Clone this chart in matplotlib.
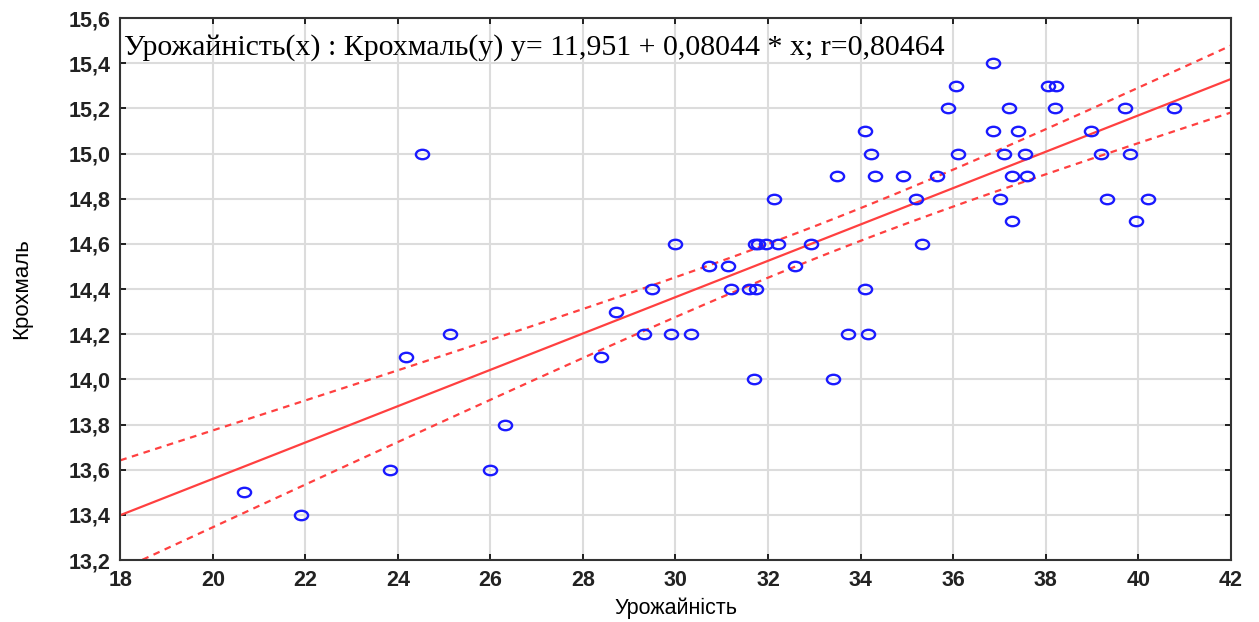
import numpy as np
import matplotlib.pyplot as plt
from matplotlib.path import Path
from matplotlib.transforms import Affine2D
from matplotlib.ticker import FuncFormatter, MultipleLocator

# Урожайність (x) vs Крохмаль (y)
urozhai = [20.67, 21.90, 23.83, 24.17, 24.52, 25.13, 26.00, 26.31,
           28.40, 28.72, 29.33, 29.50, 29.91, 29.98, 30.34, 30.73,
           31.13, 31.21, 31.58, 31.70, 31.75, 31.72, 31.79, 31.95,
           32.13, 32.21, 32.59, 32.92, 33.40, 33.50, 33.74, 34.09,
           34.09, 34.17, 34.22, 34.32, 34.92, 35.19, 35.32, 35.66,
           35.89, 36.06, 36.10, 36.87, 36.87, 37.02, 37.10, 37.20,
           37.27, 37.27, 37.41, 37.55, 37.60, 38.05, 38.23, 38.21,
           38.98, 39.20, 39.33, 39.72, 39.82, 39.95, 40.21, 40.77]
krokhmal = [13.5, 13.4, 13.6, 14.1, 15.0, 14.2, 13.6, 13.8,
            14.1, 14.3, 14.2, 14.4, 14.2, 14.6, 14.2, 14.5,
            14.5, 14.4, 14.4, 14.0, 14.4, 14.6, 14.6, 14.6,
            14.8, 14.6, 14.5, 14.6, 14.0, 14.9, 14.2, 15.1,
            14.4, 14.2, 15.0, 14.9, 14.9, 14.8, 14.6, 14.9,
            15.2, 15.3, 15.0, 15.4, 15.1, 14.8, 15.0, 15.2,
            14.7, 14.9, 15.1, 15.0, 14.9, 15.3, 15.3, 15.2,
            15.1, 15.0, 14.8, 15.2, 15.0, 14.7, 14.8, 15.2]

intercept = 11.951
slope = 0.08044
r_value = 0.80464
t_crit = 1.999

x = np.array(urozhai)
y = np.array(krokhmal)
n = len(x)
resid = y - (intercept + slope * x)
s = np.sqrt(np.sum(resid ** 2) / (n - 2))
sxx = np.sum((x - x.mean()) ** 2)

xs = np.linspace(18, 42, 200)
fit = intercept + slope * xs
half = t_crit * s * np.sqrt(1.0 / n + (xs - x.mean()) ** 2 / sxx)

fig = plt.figure(figsize=(12.59, 6.22), dpi=100)
ax = fig.add_axes([0.0955, 0.0995, 0.882, 0.8715])

ellipse = Path.unit_circle().transformed(Affine2D().scale(1.4, 1.0))
ax.plot(x, y, linestyle='none', marker=ellipse, markersize=9.5,
        mfc='none', mec='#1a1aff', mew=1.7, zorder=3)
ax.plot(xs, fit, color='#ff4040', lw=1.6, zorder=2)
ax.plot(xs, fit + half, color='#ff4040', lw=1.6, ls=(0, (3, 2.5)), zorder=2)
ax.plot(xs, fit - half, color='#ff4040', lw=1.6, ls=(0, (3, 2.5)), zorder=2)

ax.set_xlim(18, 42)
ax.set_ylim(13.2, 15.6)
ax.xaxis.set_major_locator(MultipleLocator(2))
ax.yaxis.set_major_locator(MultipleLocator(0.2))
ax.yaxis.set_major_formatter(FuncFormatter(lambda v, p: f"{v:.1f}".replace('.', ',')))
ax.xaxis.set_major_formatter(FuncFormatter(lambda v, p: f"{v:.0f}"))
ax.grid(True, color='#dcdcdc', lw=1.5)
ax.set_axisbelow(True)
ax.tick_params(direction='in', length=4, width=1.2, top=True, right=True,
               labelsize=15.5, pad=7)
for lab in ax.get_xticklabels() + ax.get_yticklabels():
    lab.set_family(['Liberation Sans', 'DejaVu Sans'])
    lab.set_fontweight('bold')
    lab.set_color('#222222')
for sp in ax.spines.values():
    sp.set_linewidth(1.5)
    sp.set_color('#333333')

ax.set_xlabel('Урожайність', fontsize=15.5, family=['Liberation Sans', 'DejaVu Sans'],
              labelpad=5)
ax.set_ylabel('Крохмаль', fontsize=16, family=['Liberation Sans', 'DejaVu Sans'],
              labelpad=26)

label = ("Урожайність(x) : Крохмаль(y) y= " + f"{intercept:.3f}".replace('.', ',')
         + " + " + f"{slope:.5f}".replace('.', ',') + " * x; r="
         + f"{r_value:.5f}".replace('.', ','))
ax.text(0.003, 0.945, label, transform=ax.transAxes, fontsize=21.5,
        family=['Liberation Serif', 'DejaVu Serif'], va='center', ha='left')

fig.savefig('out.png', dpi=100)
